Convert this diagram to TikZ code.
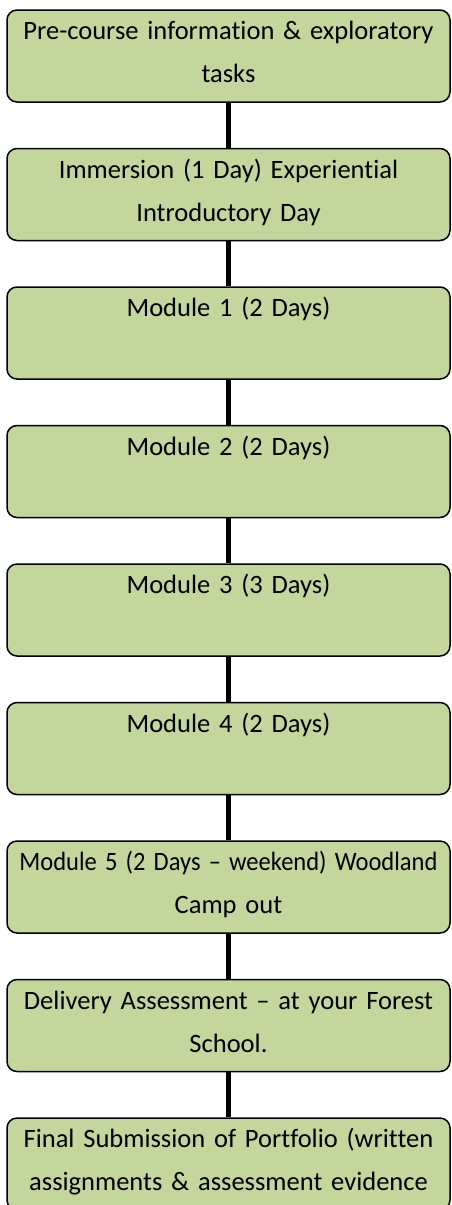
\documentclass[tikz,border=0pt]{standalone}
\usepackage{graphicx}
\usepackage{fontspec}
\setmainfont{Carlito}[Ligatures=NoCommon]
\usetikzlibrary{positioning}

\definecolor{stagegreen}{HTML}{C3D69B}
\newcommand{\stagestrut}{\rule[-16pt]{0pt}{42pt}}

\begin{document}
\begin{tikzpicture}[x=1pt,y=1pt,
  node distance=45pt,
  stagebox/.style={draw=black,line width=1.5pt,fill=stagegreen,rounded corners=10pt,
    minimum width=443pt,minimum height=92pt,text width=443pt,inner xsep=0pt,inner ysep=0pt,
    align=center,font=\fontsize{26.5pt}{38pt}\selectfont},
  link/.style={line width=5.5pt,black}]

% Rand
\useasboundingbox (0,0) rectangle (451,-1205);

% Stufen
\node[stagebox] (pre) at (228.5,-56) {\stagestrut Pre-course information \& exploratory\\ tasks\stagestrut};
\node[stagebox,below=of pre] (imm) {\stagestrut Immersion (1 Day) Experiential\\ Introductory Day\stagestrut};
\node[stagebox,below=of imm] (mod1) {\stagestrut Module 1 (2 Days)\\ \stagestrut};
\node[stagebox,below=of mod1] (mod2) {\stagestrut Module 2 (2 Days)\\ \stagestrut};
\node[stagebox,below=of mod2] (mod3) {\stagestrut Module 3 (3 Days)\\ \stagestrut};
\node[stagebox,below=of mod3] (mod4) {\stagestrut Module 4 (2 Days)\\ \stagestrut};
\node[stagebox,below=of mod4] (mod5) {\resizebox{418pt}{\height}{\stagestrut Module 5 (2 Days – weekend) Woodland}\\ Camp out\stagestrut};
\node[stagebox,below=of mod5] (deliv) {\stagestrut Delivery Assessment – at your Forest\\ School.\stagestrut};
\node[stagebox,below=of deliv] (final) {\stagestrut Final Submission of Portfolio (written\\ assignments \& assessment evidence\stagestrut};

% Verbindungen
\draw[link] (pre) -- (imm);
\draw[link] (imm) -- (mod1);
\draw[link] (mod1) -- (mod2);
\draw[link] (mod2) -- (mod3);
\draw[link] (mod3) -- (mod4);
\draw[link] (mod4) -- (mod5);
\draw[link] (mod5) -- (deliv);
\draw[link] (deliv) -- (final);

\end{tikzpicture}
\end{document}
